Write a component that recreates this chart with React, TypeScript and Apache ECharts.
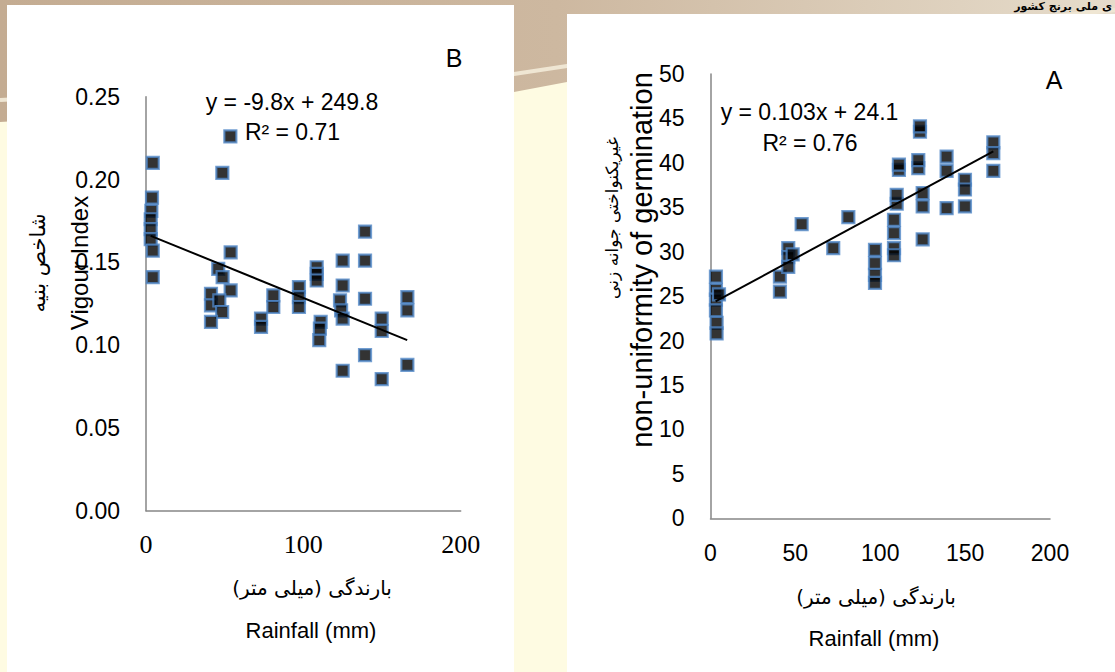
import React, { useEffect, useRef } from "react";
import * as echarts from "echarts";

// Panel B: Vigour index vs rainfall
const rainfallB = [4.3, 48.5, 53.6, 3.8, 3.4, 3.0, 3.0, 3.0, 4.3, 4.3,
  53.8, 45.9, 48.7, 53.8, 41.3, 41.3, 46.6, 48.4, 41.3,
  80.9, 80.9, 73.1, 73.1, 97.2, 97.2, 97.2,
  108.5, 108.5, 108.5, 111.0, 110.1, 110.5,
  123.3, 124.0, 125.0, 139.2, 125.0, 139.2, 125.0, 139.2, 166.1, 166.1,
  149.8, 149.8, 139.2, 125.0, 166.1, 149.8];
const vigourB = [0.210, 0.204, 0.226, 0.189, 0.181, 0.176, 0.170, 0.164, 0.157, 0.141,
  0.156, 0.146, 0.141, 0.133, 0.131, 0.124, 0.127, 0.120, 0.114,
  0.130, 0.123, 0.116, 0.111, 0.135, 0.129, 0.123,
  0.147, 0.143, 0.139, 0.114, 0.103, 0.110,
  0.127, 0.121, 0.116, 0.1685, 0.151, 0.151, 0.136, 0.128, 0.129, 0.121,
  0.116, 0.1085, 0.094, 0.0845, 0.088, 0.0795];
const trendBx = [3, 166];
const trendBy = [0.166, 0.103];

// Panel A: non-uniformity of germination vs rainfall
const rainfallA = [3.2, 3.2, 3.2, 3.2, 3.6, 3.6, 5.0,
  40.9, 40.9, 45.8, 45.8, 48.4, 45.8, 53.7, 72.3, 81.2,
  96.9, 96.9, 96.9, 96.9,
  108.1, 108.1, 108.1, 108.1, 109.7, 109.7, 111.0, 111.0,
  122.4, 122.4, 123.4, 123.4, 125.0, 125.0, 125.0,
  139.1, 139.1, 139.1, 149.9, 149.9, 149.9, 166.6, 166.6, 166.6];
const nonUniformA = [27.2, 25.7, 24.6, 23.4, 22.0, 20.8, 25.2,
  27.2, 25.5, 30.4, 29.4, 29.7, 28.3, 33.1, 30.4, 33.9,
  30.2, 28.7, 27.4, 26.5,
  33.6, 32.1, 30.4, 29.6, 35.4, 36.4, 39.2, 39.8,
  39.4, 40.3, 43.5, 44.1, 36.6, 35.1, 31.4,
  40.7, 39.1, 34.9, 38.1, 37.0, 35.1, 42.3, 41.1, 39.1];
const trendAx = [3, 166.6];
const trendAy = [24.4, 41.3];

const SANS = "'Liberation Sans', Arial, sans-serif";
const SERIF = "'Liberation Serif', 'Times New Roman', serif";
const FA = "'DejaVu Sans', sans-serif";

const zip = (xs: number[], ys: number[]) => xs.map((x, i) => [x, ys[i]]);

export default function App() {
  const ref = useRef<HTMLDivElement>(null);
  useEffect(() => {
    if (!ref.current) return;
    const chart = echarts.init(ref.current, undefined, { renderer: "svg" });
    const axisLine = { show: true, lineStyle: { color: "#868686", width: 1.5 } };
    const marker = {
      type: "scatter" as const,
      symbol: "rect",
      symbolSize: 12,
      itemStyle: { color: "#000", borderColor: "#4F86C6", borderWidth: 2.2 },
      z: 3,
    };
    const trend = {
      type: "line" as const,
      symbol: "none",
      lineStyle: { color: "#000", width: 2 },
      z: 5,
    };
    const text = (t: string, x: number, y: number, size: number, font: string, extra: any = {}) => ({
      type: "text",
      x, y, z: 100,
      ...extra,
      style: { text: t, fontSize: size, fontFamily: font, fill: "#000", textAlign: "center", textVerticalAlign: "middle", ...(extra.style || {}) },
    });
    chart.setOption({
      animation: false,
      backgroundColor: "#fefbe2",
      graphic: [
        {
          type: "polygon", z: -20,
          shape: { points: [[0, 0], [1115, 0], [1115, 22], [567, 82], [514, 92], [0, 122]] },
          style: {
            fill: new echarts.graphic.LinearGradient(0, 0, 1, 0, [
              { offset: 0, color: "#c4ac92" },
              { offset: 0.5, color: "#cdb8a0" },
              { offset: 1, color: "#e6dccb" },
            ]),
          },
        },
        { type: "polyline", z: -19, shape: { points: [[0, 100], [514, 74], [567, 66], [1115, 10]] }, style: { stroke: "#efe6d3", lineWidth: 4, fill: null } },
        { type: "rect", z: -10, shape: { x: 7, y: 5, width: 507, height: 667 }, style: { fill: "#ffffff" } },
        { type: "rect", z: -10, shape: { x: 567, y: 14, width: 548, height: 658 }, style: { fill: "#ffffff" } },
        text("ی ملی برنج کشور", 1112, 6, 11, FA, { style: { textAlign: "right", fontWeight: "bold" } }),
        text("B", 454, 58, 25, SANS),
        text("A", 1054, 80, 25, SANS),
        text("y = -9.8x + 249.8", 292, 101.7, 23, SANS),
        text("R² = 0.71", 292.5, 131.7, 23, SANS),
        text("y = 0.103x + 24.1", 809.5, 111.7, 23, SANS),
        text("R² = 0.76", 810, 142.7, 23, SANS),
        text("بارندگی (میلی متر)", 312, 588, 20, FA),
        text("Rainfall (mm)", 311, 630, 22, SANS),
        text("بارندگی (میلی متر)", 876, 597, 20, FA),
        text("Rainfall (mm)", 874, 638, 22, SANS),
        text("شاخص بنیه", 38, 263, 21, FA, { rotation: Math.PI / 2 }),
        text("Vigour Index", 79, 263, 24, SANS, { rotation: Math.PI / 2 }),
        text("غیریکنواختی جوانه زنی", 612, 218, 17, FA, { rotation: Math.PI / 2 }),
        text("non-uniformity of germination", 642, 260, 29, SANS, { rotation: Math.PI / 2 }),
      ],
      grid: [
        { left: 146, right: 1115 - 460.7, top: 96.7, bottom: 672 - 510.7 },
        { left: 710.5, right: 1115 - 1050, top: 74, bottom: 672 - 518.3 },
      ],
      xAxis: [
        {
          type: "value", gridIndex: 0, min: 0, max: 200, interval: 100,
          axisLine, axisTick: { show: false }, splitLine: { show: false },
          axisLabel: { fontFamily: SERIF, fontSize: 26, color: "#000", margin: 21 },
        },
        {
          type: "value", gridIndex: 1, min: 0, max: 200, interval: 50,
          axisLine, axisTick: { show: false }, splitLine: { show: false },
          axisLabel: { fontFamily: SANS, fontSize: 23, color: "#000", margin: 23 },
        },
      ],
      yAxis: [
        {
          type: "value", gridIndex: 0, min: 0, max: 0.25, interval: 0.05,
          axisLine, axisTick: { show: false }, splitLine: { show: false },
          axisLabel: { fontFamily: SANS, fontSize: 23, color: "#000", margin: 26, formatter: (v: number) => v.toFixed(2) },
        },
        {
          type: "value", gridIndex: 1, min: 0, max: 50, interval: 5,
          axisLine, axisTick: { show: false }, splitLine: { show: false },
          axisLabel: { fontFamily: SANS, fontSize: 23, color: "#000", margin: 26 },
        },
      ],
      series: [
        { ...marker, xAxisIndex: 0, yAxisIndex: 0, data: zip(rainfallB, vigourB) },
        { ...trend, xAxisIndex: 0, yAxisIndex: 0, data: zip(trendBx, trendBy) },
        { ...marker, xAxisIndex: 1, yAxisIndex: 1, data: zip(rainfallA, nonUniformA) },
        { ...trend, xAxisIndex: 1, yAxisIndex: 1, data: zip(trendAx, trendAy) },
      ],
    });
    return () => chart.dispose();
  }, []);
  return <div ref={ref} style={{ position: "absolute", left: 0, top: 0, width: 1115, height: 672 }} />;
}
